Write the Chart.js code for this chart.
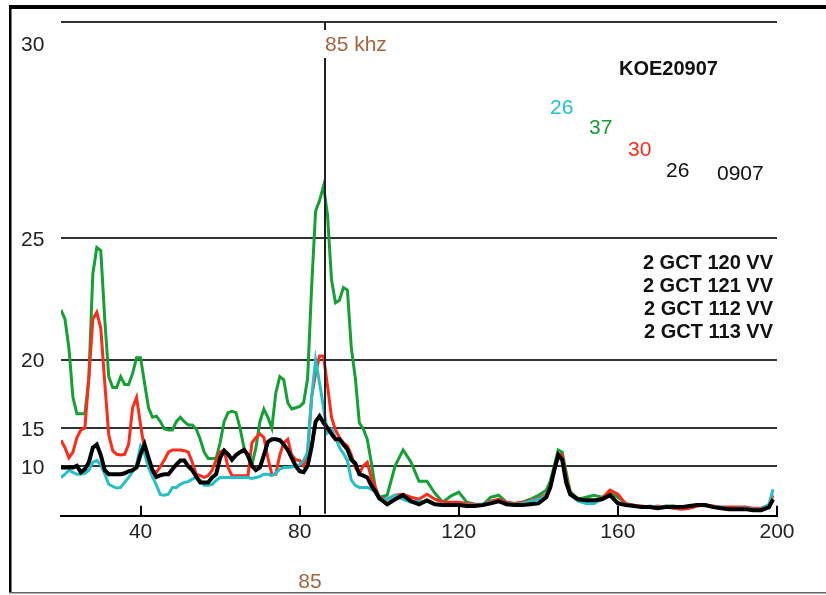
<!DOCTYPE html>
<html>
<head>
<meta charset="utf-8">
<script src="https://cdn.jsdelivr.net/npm/chart.js@4.4.0/dist/chart.umd.min.js"></script>
<style>
  html, body { margin: 0; padding: 0; background: #fff; }
</style>
</head>
<body>
<canvas id="spectrum_chart" width="826" height="595"></canvas>
<script>
// frequency (khz) samples shared by all four traces
const freq_khz = [
  20,21,22,23,24,25,26,27,28,29,30,31,32,33,34,35,36,37,38,39,
  40,41,42,43,44,45,46,47,48,49,50,51,52,53,54,55,56,57,58,59,
  60,61,62,63,64,65,66,67,68,69,70,71,72,73,74,75,76,77,78,79,
  80,81,82,83,84,85,86,87,88,89,90,91,92,93,94,95,96,97,98,99,100,
  102,104,106,108,110,112,114,116,118,120,122,124,126,128,130,132,134,136,138,140,
  142,143,144,145,146,147,148,
  150,152,154,156,158,160,162,164,166,168,170,172,174,176,178,180,182,184,186,188,190,192,194,196,198,
  199
];

// levels in dB
const black_db = [
  9.8,9.8,9.8,9.8,10.1,8.9,9.5,10.7,12.8,13.2,
  11.8,9.3,8.5,8.5,8.5,8.5,8.7,9.1,9.3,9.8,
  11.9,13.2,11.4,9.3,7.9,8.3,8.5,8.5,9.5,10.3,
  11.0,11.0,10.0,9.3,8.0,6.6,6.6,6.6,7.8,8.5,
  11.4,12.4,11.9,11.1,11.8,12.2,12.5,11.8,10.1,9.3,
  9.8,11.8,13.5,13.8,13.8,13.7,13.2,12.5,11.4,10.1,
  9.1,8.9,10.1,12.9,15.6,16.1,15.5,15.0,14.4,13.8,
  13.8,13.2,12.6,11.1,10.5,8.5,8.2,7.8,5.8,4.0,1.0,
  -2.6,0.5,2.4,-0.6,-2.6,-0.1,-2.6,-3.3,-3.3,-3.3,-4.1,-4.1,-3.3,-2.0,-0.6,-2.6,-3.3,-3.3,-2.6,-2.0,
  1.5,5.2,9.3,11.8,11.1,6.6,2.8,
  0.5,-0.1,-0.1,0.5,2.4,-2.0,-3.3,-4.1,-5.1,-5.1,-6.2,-5.1,-5.1,-5.1,-4.1,-3.3,-3.3,-5.1,-6.2,-7.4,-7.4,-7.4,-8.8,-8.8,-5.1,
  0.5
];
const cyan_db = [
  7.8,8.5,9.3,8.9,8.5,8.5,8.7,9.3,10.7,11.0,
  10.3,8.5,6.1,5.5,5.0,5.2,6.6,7.8,9.0,10.3,
  13.0,12.0,9.8,8.0,5.8,2.6,2.4,2.8,5.2,5.2,
  6.1,6.6,6.8,7.4,7.8,7.2,5.8,5.8,6.1,7.1,
  7.8,7.8,7.8,7.8,7.8,7.8,7.8,7.8,7.6,7.8,
  8.0,8.5,8.5,8.2,8.7,9.5,9.8,9.8,9.9,10.1,
  10.3,11.0,12.2,17.6,20.0,18.6,16.8,14.5,14.9,14.0,
  12.8,12.0,11.0,7.1,5.8,5.2,5.2,5.2,4.6,3.6,0.5,
  0.5,2.4,0.5,-1.2,-0.6,-0.6,-2.6,-2.6,-3.3,-3.3,-3.3,-3.3,-2.6,-1.2,-0.6,-2.0,-2.6,-2.0,-0.6,0.5,
  2.4,5.2,9.3,11.6,11.0,6.6,2.4,
  -0.6,-2.0,-2.0,0.5,2.4,-1.2,-3.3,-4.1,-5.1,-4.1,-5.1,-5.1,-5.1,-5.1,-4.1,-3.3,-4.1,-5.1,-5.1,-7.4,-6.2,-6.2,-7.4,-7.4,-2.6,
  4.6
];
const red_db = [
  13.7,12.8,11.4,12.2,14.0,14.8,15.0,18.9,22.0,22.3,
  21.6,18.6,14.3,12.4,11.9,11.8,11.9,13.2,16.8,17.6,
  15.3,12.5,10.7,9.3,8.9,10.0,11.1,12.2,12.5,12.5,
  12.5,12.4,12.2,10.7,8.5,8.2,7.8,8.2,9.3,11.1,
  12.2,12.5,9.8,8.2,8.2,8.2,8.2,8.2,13.4,14.0,
  14.4,14.0,11.4,8.5,8.5,11.8,13.4,13.8,11.8,11.1,
  11.0,10.1,12.2,17.6,19.2,20.2,20.2,18.4,16.0,14.8,
  14.0,13.4,13.0,11.8,9.8,8.7,10.1,10.7,7.8,5.2,1.5,
  0.5,2.4,2.8,1.5,0.5,2.8,0.5,-1.2,-1.2,-1.2,-2.0,-2.6,-2.6,-0.6,0.5,-1.2,-2.0,-1.2,-0.1,1.0,
  2.8,5.2,9.1,12.0,11.8,7.8,2.8,
  -0.1,-0.6,-0.1,1.0,4.3,2.8,-2.6,-3.3,-4.1,-5.1,-4.1,-5.1,-6.2,-7.4,-6.2,-4.1,-3.3,-4.1,-5.1,-5.1,-5.1,-5.1,-6.2,-6.2,-3.3,
  2.4
];
const green_db = [
  22.4,22.0,20.6,17.6,16.3,16.3,16.3,18.9,23.8,24.7,
  24.6,22.0,19.0,18.3,18.3,19.0,18.5,18.5,19.2,20.1,
  20.1,18.6,16.8,16.0,16.1,15.6,14.9,14.8,14.8,15.6,
  16.0,15.6,15.3,15.3,14.9,13.8,12.2,11.3,11.3,11.3,
  13.4,15.6,16.4,16.5,16.4,15.0,12.8,11.4,10.3,12.8,
  15.6,16.7,16.0,15.0,17.9,19.0,18.8,17.2,16.7,16.8,
  16.9,17.2,18.9,23.3,25.8,26.1,26.5,25.7,23.6,22.7,
  22.8,23.3,23.2,20.6,18.9,15.5,14.9,13.8,10.7,5.2,1.5,
  2.4,10.1,12.5,10.7,6.9,6.9,3.2,-1.2,2.0,3.6,-1.2,-2.6,-3.3,1.5,2.4,-1.2,-2.0,-1.2,0.5,2.4,
  4.3,6.9,10.1,12.5,12.2,8.9,3.9,
  0.5,1.5,2.4,1.5,3.2,1.5,-2.0,-3.3,-5.1,-5.1,-6.2,-4.1,-4.1,-5.1,-4.1,-3.3,-3.3,-5.1,-6.2,-7.4,-6.2,-7.4,-8.8,-8.8,-5.1,
  -0.1
];

const x_ticks = [40, 80, 120, 160, 200];
const y_ticks = [10, 15, 20, 25, 30];
const marker_khz = 86.4;
const marker_label = "85 khz";
const marker_axis_label = "85";
const title_text = "KOE20907";
const trace_counts = ["26", "37", "30", "26"];
const date_text = "0907";
const series_names = ["2 GCT 120 VV", "2 GCT 121 VV", "2 GCT 112 VV", "2 GCT 113 VV"];

const C_BLACK = "#000000";
const C_CYAN = "#22c0c8";
const C_RED = "#ff2a1a";
const C_GREEN = "#14a034";
const C_BROWN = "#a4643e";

// the vertical axis is linear in amplitude, labelled in dB
function db_to_amp(db) {
  return Math.pow(10, db / 20);
}

function make_points(values) {
  return freq_khz.map((f, i) => ({ x: f, y: db_to_amp(values[i]) }));
}

const decor_plugin = {
  id: "decor",
  afterDatasetsDraw(chart) {
    const ctx = chart.ctx;
    const a = chart.chartArea;
    const xs = chart.scales.x;
    ctx.save();
    // tick marks pointing up from the axis
    ctx.strokeStyle = "#000";
    ctx.lineWidth = 2;
    x_ticks.forEach((v) => {
      const px = Math.round(xs.getPixelForValue(v));
      ctx.beginPath();
      ctx.moveTo(px, a.bottom);
      ctx.lineTo(px, a.bottom - 10);
      ctx.stroke();
    });
    // marker line at 85 khz, broken for its label
    const mx = Math.round(xs.getPixelForValue(marker_khz));
    ctx.strokeStyle = "#222";
    ctx.beginPath();
    ctx.moveTo(mx, a.top);
    ctx.lineTo(mx, a.top + 8);
    ctx.moveTo(mx, a.top + 36);
    ctx.lineTo(mx, a.bottom - 2);
    ctx.stroke();
    ctx.restore();
  },
  afterDraw(chart) {
    const ctx = chart.ctx;
    const a = chart.chartArea;
    const xs = chart.scales.x;
    const ys = chart.scales.y;
    ctx.save();
    // outer frame
    ctx.fillStyle = "#000";
    ctx.fillRect(9, 5, 817, 4);
    ctx.fillRect(9, 5, 2.5, 588);
    ctx.fillStyle = "#666";
    ctx.fillRect(9, 592, 817, 1.5);

    ctx.textBaseline = "middle";
    ctx.textAlign = "left";
    ctx.font = "21px 'Liberation Sans', Arial, sans-serif";
    ctx.fillStyle = "#222";
    y_ticks.forEach((v) => {
      let py = ys.getPixelForValue(db_to_amp(v)) + 2;
      py = Math.max(py, a.top + 23);
      ctx.fillText(String(v), 21, py);
    });

    const mx = Math.round(xs.getPixelForValue(marker_khz));
    ctx.fillStyle = C_BROWN;
    ctx.fillText(marker_label, mx, a.top + 23);
    ctx.textAlign = "center";
    ctx.fillText(marker_axis_label, mx - 15, 582);

    ctx.textAlign = "left";
    ctx.fillStyle = C_CYAN;
    ctx.fillText(trace_counts[0], 550, 108);
    ctx.fillStyle = C_GREEN;
    ctx.fillText(trace_counts[1], 589, 128);
    ctx.fillStyle = C_RED;
    ctx.fillText(trace_counts[2], 628, 150);
    ctx.fillStyle = "#111";
    ctx.fillText(trace_counts[3], 666, 171);
    ctx.fillText(date_text, 717, 174);

    ctx.font = "bold 20px 'Liberation Sans', Arial, sans-serif";
    ctx.fillText(title_text, 619, 69);
    ctx.textAlign = "right";
    series_names.forEach((s, i) => {
      ctx.fillText(s, 773, 263 + i * 23.3);
    });
    ctx.restore();
  },
};

const spectrum_ctx = document.getElementById("spectrum_chart");

const spectrum_chart = new Chart(spectrum_ctx, {
  type: "line",
  data: {
    datasets: [
      { label: "black", data: make_points(black_db), borderColor: C_BLACK, borderWidth: 4 },
      { label: "cyan", data: make_points(cyan_db), borderColor: C_CYAN, borderWidth: 3 },
      { label: "red", data: make_points(red_db), borderColor: C_RED, borderWidth: 3 },
      { label: "green", data: make_points(green_db), borderColor: C_GREEN, borderWidth: 3 },
    ],
  },
  options: {
    responsive: false,
    animation: false,
    layout: { padding: { left: 61, right: 49, top: 22, bottom: 46 } },
    elements: {
      point: { radius: 0 },
      line: { tension: 0, borderJoinStyle: "miter", borderCapStyle: "butt" },
    },
    plugins: {
      legend: { display: false },
      tooltip: { enabled: false },
    },
    scales: {
      x: {
        type: "linear",
        min: 20,
        max: 200,
        afterBuildTicks: (scale) => {
          scale.ticks = x_ticks.map((v) => ({ value: v }));
        },
        grid: { display: false, drawTicks: false },
        border: { display: true, color: "#000", width: 2 },
        ticks: {
          autoSkip: false,
          maxRotation: 0,
          padding: 4,
          color: "#222",
          font: { family: "'Liberation Sans', Arial, sans-serif", size: 21 },
        },
      },
      y: {
        type: "linear",
        min: 0,
        max: db_to_amp(30),
        afterBuildTicks: (scale) => {
          scale.ticks = y_ticks.map((v) => ({ value: db_to_amp(v) }));
        },
        ticks: { display: false },
        grid: { color: "#333", lineWidth: 2, drawTicks: false },
        border: { display: false },
      },
    },
  },
  plugins: [decor_plugin],
});
</script>
</body>
</html>
